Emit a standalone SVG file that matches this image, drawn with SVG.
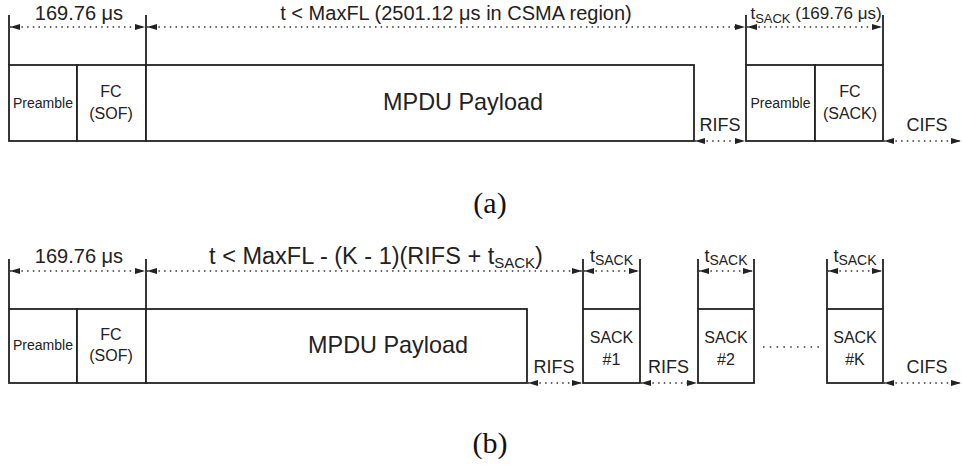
<svg xmlns="http://www.w3.org/2000/svg" width="962" height="467" viewBox="0 0 962 467">
<style>
.box{fill:#fff;stroke:#222;stroke-width:1.8}
.vl{stroke:#222;stroke-width:1.8;fill:none}
.dim{stroke:#333;stroke-width:1.5;stroke-dasharray:1.5 4.2;fill:none}
.t{font-family:"Liberation Sans",Arial,sans-serif;fill:#222;text-anchor:middle}
.cap{font-family:"Liberation Serif","DejaVu Serif",serif;fill:#111;text-anchor:middle;font-size:30px}
</style>
<defs>
<marker id="ah" viewBox="0 0 10 6" refX="10" refY="3" markerWidth="10" markerHeight="6" markerUnits="userSpaceOnUse" orient="auto-start-reverse">
<path d="M0,0 L10,3 L0,6 z" fill="#222"/>
</marker>
</defs>

<!-- (a) -->
<g id="a-preamble"><rect class="box" x="9" y="65" width="68" height="76"/><text class="t" x="43" y="108" font-size="14">Preamble</text></g>
<g id="a-fc-sof"><rect class="box" x="77" y="65" width="69" height="76"/><text class="t" x="111" y="97" font-size="16">FC</text><text class="t" x="111" y="119" font-size="16">(SOF)</text></g>
<g id="a-mpdu"><rect class="box" x="146" y="65" width="548" height="76"/><text class="t" x="463" y="110" font-size="23.4">MPDU Payload</text></g>
<g id="a-preamble2"><rect class="box" x="746" y="65" width="69" height="76"/><text class="t" x="780.5" y="108" font-size="14">Preamble</text></g>
<g id="a-fc-sack"><rect class="box" x="815" y="65" width="68" height="76"/><text class="t" x="850" y="97" font-size="16">FC</text><text class="t" x="850" y="119" font-size="16">(SACK)</text></g>

<!-- (b) -->
<g id="b-preamble"><rect class="box" x="9" y="309" width="68" height="74"/><text class="t" x="43" y="350" font-size="14">Preamble</text></g>
<g id="b-fc-sof"><rect class="box" x="77" y="309" width="69" height="74"/><text class="t" x="111" y="340" font-size="16">FC</text><text class="t" x="111" y="361" font-size="16">(SOF)</text></g>
<g id="b-mpdu"><rect class="box" x="146" y="309" width="381" height="74"/><text class="t" x="388" y="353" font-size="23.4">MPDU Payload</text></g>
<g id="b-sack1"><rect class="box" x="583" y="309" width="57" height="74"/><text class="t" x="611.5" y="343" font-size="16">SACK</text><text class="t" x="611.5" y="365" font-size="16">#1</text></g>
<g id="b-sack2"><rect class="box" x="698" y="309" width="56" height="74"/><text class="t" x="726" y="343" font-size="16">SACK</text><text class="t" x="726" y="365" font-size="16">#2</text></g>
<g id="b-sackk"><rect class="box" x="827" y="309" width="56" height="74"/><text class="t" x="855" y="343" font-size="16">SACK</text><text class="t" x="855" y="365" font-size="16">#K</text></g>

<g id="connectors">
<!-- (a) extension lines -->
<line class="vl" x1="9" y1="15" x2="9" y2="65"/>
<line class="vl" x1="146" y1="15" x2="146" y2="65"/>
<line class="vl" x1="746" y1="15" x2="746" y2="65"/>
<line class="vl" x1="883" y1="15" x2="883" y2="65"/>
<!-- (a) dimensions -->
<line class="dim" x1="10" y1="27" x2="145" y2="27" marker-start="url(#ah)" marker-end="url(#ah)"/>
<line class="dim" x1="147" y1="27" x2="745" y2="27" marker-start="url(#ah)" marker-end="url(#ah)"/>
<line class="dim" x1="747" y1="27" x2="882" y2="27" marker-start="url(#ah)" marker-end="url(#ah)"/>
<line class="dim" x1="695" y1="141" x2="745" y2="141" marker-start="url(#ah)" marker-end="url(#ah)"/>
<line class="dim" x1="884" y1="141" x2="961" y2="141" marker-start="url(#ah)" marker-end="url(#ah)"/>
<!-- (b) extension lines -->
<line class="vl" x1="9" y1="259" x2="9" y2="309"/>
<line class="vl" x1="146" y1="259" x2="146" y2="309"/>
<line class="vl" x1="583" y1="259" x2="583" y2="309"/>
<line class="vl" x1="640" y1="259" x2="640" y2="309"/>
<line class="vl" x1="698" y1="259" x2="698" y2="309"/>
<line class="vl" x1="754" y1="259" x2="754" y2="309"/>
<line class="vl" x1="827" y1="259" x2="827" y2="309"/>
<line class="vl" x1="883" y1="259" x2="883" y2="309"/>
<!-- (b) dimensions -->
<line class="dim" x1="10" y1="271" x2="145" y2="271" marker-start="url(#ah)" marker-end="url(#ah)"/>
<line class="dim" x1="147" y1="271" x2="582" y2="271" marker-start="url(#ah)" marker-end="url(#ah)"/>
<line class="dim" x1="584" y1="271" x2="639" y2="271" marker-start="url(#ah)" marker-end="url(#ah)"/>
<line class="dim" x1="699" y1="271" x2="753" y2="271" marker-start="url(#ah)" marker-end="url(#ah)"/>
<line class="dim" x1="828" y1="271" x2="882" y2="271" marker-start="url(#ah)" marker-end="url(#ah)"/>
<line class="dim" x1="528" y1="383" x2="582" y2="383" marker-start="url(#ah)" marker-end="url(#ah)"/>
<line class="dim" x1="641" y1="383" x2="697" y2="383" marker-start="url(#ah)" marker-end="url(#ah)"/>
<line class="dim" x1="884" y1="383" x2="961" y2="383" marker-start="url(#ah)" marker-end="url(#ah)"/>
<line stroke="#333" stroke-width="1.5" stroke-dasharray="1.5 5.3" x1="763" y1="347" x2="819" y2="347"/>
</g>

<!-- labels (a) -->
<text class="t" x="79" y="20" font-size="20">169.76 μs</text>
<text class="t" x="456" y="20" font-size="20">t &lt; MaxFL (2501.12 μs in CSMA region)</text>
<text class="t" x="816" y="19" font-size="17">t<tspan font-size="13" dy="4">SACK</tspan><tspan dy="-4"> (169.76 μs)</tspan></text>
<text class="t" x="720" y="131" font-size="18">RIFS</text>
<text class="t" x="927" y="131" font-size="18">CIFS</text>
<text class="cap" x="490" y="213">(a)</text>

<!-- labels (b) -->
<text class="t" x="79" y="263" font-size="20">169.76 μs</text>
<text class="t" x="376" y="264" font-size="23.5">t &lt; MaxFL - (K - 1)(RIFS + t<tspan font-size="15" dy="4">SACK</tspan><tspan dy="-4">)</tspan></text>
<text class="t" x="611.5" y="262" font-size="18">t<tspan font-size="14" dy="3">SACK</tspan></text>
<text class="t" x="726" y="262" font-size="18">t<tspan font-size="14" dy="3">SACK</tspan></text>
<text class="t" x="855" y="262" font-size="18">t<tspan font-size="14" dy="3">SACK</tspan></text>
<text class="t" x="554" y="373" font-size="18">RIFS</text>
<text class="t" x="668.5" y="373" font-size="18">RIFS</text>
<text class="t" x="927" y="373" font-size="18">CIFS</text>
<text class="cap" x="490" y="453">(b)</text>
</svg>
